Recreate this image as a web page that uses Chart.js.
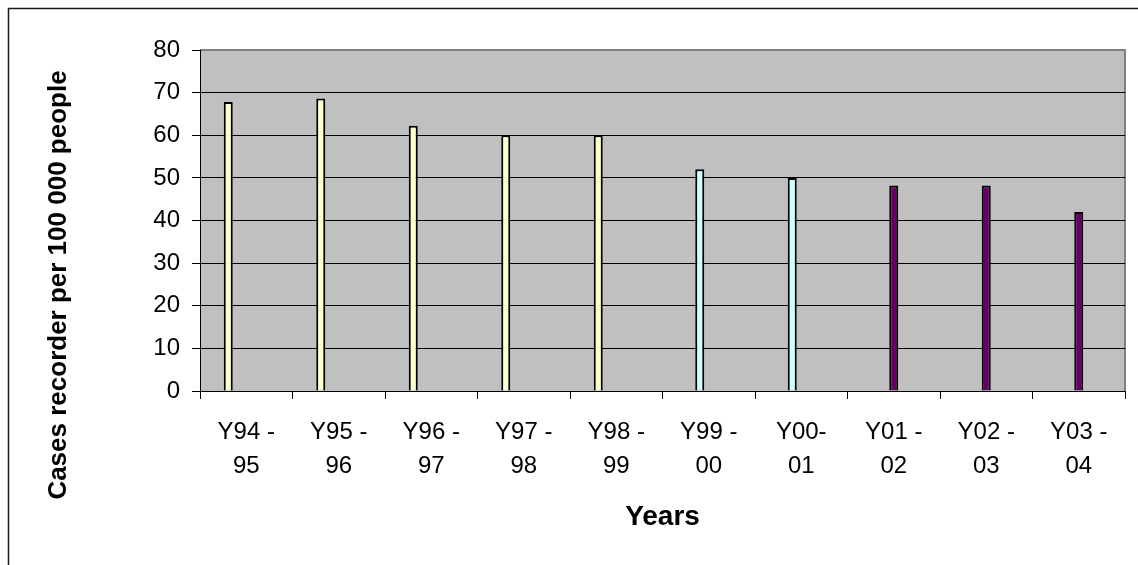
<!DOCTYPE html>
<html>
<head>
<meta charset="utf-8">
<script src="https://cdn.jsdelivr.net/npm/chart.js@4"></script>
<style>
  html, body { margin: 0; padding: 0; background: #fff; }
  #wrap { width: 1138px; height: 565px; position: relative; }
</style>
</head>
<body>
<div id="wrap"><canvas id="chart" width="1138" height="565"></canvas></div>
<script>
// Financial years on the category axis (two-line labels)
const years = [
  ['Y94 -', '95'], ['Y95 -', '96'], ['Y96 -', '97'], ['Y97 -', '98'], ['Y98 -', '99'],
  ['Y99 -', '00'], ['Y00-', '01'], ['Y01 -', '02'], ['Y02 -', '03'], ['Y03 -', '04']
];

// Cases recorded per 100 000 people, split into three periods
const period1 = [67.8, 68.6, 62.2, 60, 60, null, null, null, null, null];
const period2 = [null, null, null, null, null, 52, 50, null, null, null];
const period3 = [null, null, null, null, null, null, null, 48.2, 48.2, 42];
// Two unused series slots kept in the bar grouping
const period4 = [null, null, null, null, null, null, null, null, null, null];
const period5 = [null, null, null, null, null, null, null, null, null, null];

const yMin = 0, yMax = 80, yStep = 10;

const xTitle = 'Years';
const yTitle = 'Cases recorder per 100 000 people';

const FONT = '"Liberation Sans", Arial, Helvetica, sans-serif';

const framePlugin = {
  id: 'frame',
  beforeDraw(chart) {
    const { ctx, chartArea: a } = chart;
    ctx.save();
    ctx.fillStyle = '#ffffff';
    ctx.fillRect(0, 0, chart.width, chart.height);
    // outer chart border (continues past the bottom/right edge)
    ctx.strokeStyle = '#1a1a1a';
    ctx.lineWidth = 1.5;
    ctx.strokeRect(8.5, 8.5, chart.width + 40, chart.height + 40);
    // plot area
    ctx.fillStyle = '#c0c0c0';
    ctx.fillRect(a.left, a.top, a.right - a.left, a.bottom - a.top);
    ctx.strokeStyle = '#808080';
    ctx.lineWidth = 2;
    ctx.beginPath();
    ctx.moveTo(a.left, a.top);
    ctx.lineTo(a.right, a.top);
    ctx.lineTo(a.right, a.bottom);
    ctx.stroke();
    ctx.restore();
  },
  afterDraw(chart) {
    const { ctx, chartArea: a } = chart;
    ctx.save();
    ctx.fillStyle = '#000';
    ctx.font = 'bold 28px ' + FONT;
    ctx.textAlign = 'center';
    ctx.textBaseline = 'alphabetic';
    ctx.fillText(xTitle, (a.left + a.right) / 2, 525);
    ctx.font = 'bold 26px ' + FONT;
    ctx.translate(66, 285);
    ctx.rotate(-Math.PI / 2);
    ctx.fillText(yTitle, 0, 0);
    ctx.restore();
  }
};

const barStyle = { borderColor: '#000000', borderWidth: 2 };

new Chart(document.getElementById('chart'), {
  type: 'bar',
  data: {
    labels: years,
    datasets: [
      { label: 'Series 1', data: period1, backgroundColor: '#ffffcc', ...barStyle },
      { label: 'Series 2', data: period2, backgroundColor: '#ccffff', ...barStyle },
      { label: 'Series 3', data: period3, backgroundColor: '#660066', ...barStyle },
      { label: 'Series 4', data: period4, backgroundColor: '#000080', ...barStyle },
      { label: 'Series 5', data: period5, backgroundColor: '#ff00ff', ...barStyle }
    ]
  },
  options: {
    responsive: false,
    animation: false,
    events: [],
    datasets: { bar: { categoryPercentage: 0.4865, barPercentage: 1.0 } },
    layout: { padding: { top: 50, right: 13, left: 0, bottom: 0 } },
    plugins: { legend: { display: false }, tooltip: { enabled: false } },
    scales: {
      x: {
        afterFit(scale) { scale.height = 174; },
        grid: {
          drawOnChartArea: false,
          drawTicks: true,
          tickLength: 8,
          color: '#000',
          tickColor: '#000'
        },
        border: { color: '#000', width: 1 },
        ticks: {
          autoSkip: false,
          maxRotation: 0,
          minRotation: 0,
          padding: 16,
          color: '#000',
          font: { family: FONT, size: 24, lineHeight: 34 / 24 }
        }
      },
      y: {
        min: yMin,
        max: yMax,
        afterFit(scale) { scale.width = 200; },
        grid: {
          color: (c) => (c.tick && c.tick.value === yMax ? '#808080' : '#000'),
          lineWidth: 1,
          tickLength: 8,
          tickColor: '#000'
        },
        border: { color: '#000', width: 1 },
        ticks: {
          stepSize: yStep,
          padding: 12,
          color: '#000',
          font: { family: FONT, size: 24 }
        }
      }
    }
  },
  plugins: [framePlugin]
});
</script>
</body>
</html>
